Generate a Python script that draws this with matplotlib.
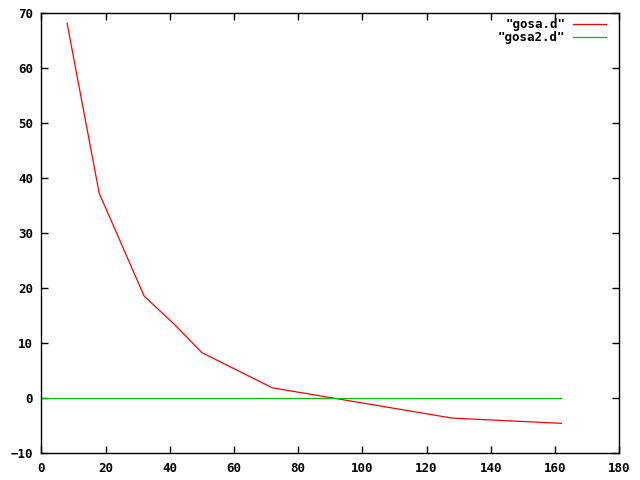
import matplotlib
matplotlib.use("Agg")
import matplotlib.pyplot as plt

# data (gnuplot output)
gosa_x = [8, 18, 32, 41.5, 50, 72, 128, 162]
gosa_y = [68.2, 37.3, 18.6, 13.4, 8.3, 1.9, -3.6, -4.55]
gosa2_x = [0, 162]
gosa2_y = [0, 0]

xticks = [0, 20, 40, 60, 80, 100, 120, 140, 160, 180]
yticks = [-10, 0, 10, 20, 30, 40, 50, 60, 70]

plt.rcParams['font.family'] = ['DejaVu Sans Mono']
plt.rcParams['font.weight'] = 'bold'
plt.rcParams['font.size'] = 9

fig = plt.figure(figsize=(6.4, 4.8), dpi=100)
ax = fig.add_axes([0.0647, 0.0556, 0.9028, 0.9167])

ax.plot(gosa_x, gosa_y, color='#ff0000', lw=0.9, label='"gosa.d"')
ax.plot(gosa2_x, gosa2_y, color='#00c000', lw=0.9, label='"gosa2.d"')

ax.set_xlim(0, 180)
ax.set_ylim(-10, 70)
ax.set_xticks(xticks)
ax.set_yticks(yticks)
ax.tick_params(direction='in', length=5, width=1, top=True, right=True, pad=6)
for s in ax.spines.values():
    s.set_linewidth(1)

ax.legend(loc='upper right', bbox_to_anchor=(0.9785, 0.992), frameon=False,
          markerfirst=False, handlelength=2.6, handletextpad=0.6,
          labelspacing=0.0, borderaxespad=0, borderpad=0.1)

fig.savefig('out.png', dpi=100)
